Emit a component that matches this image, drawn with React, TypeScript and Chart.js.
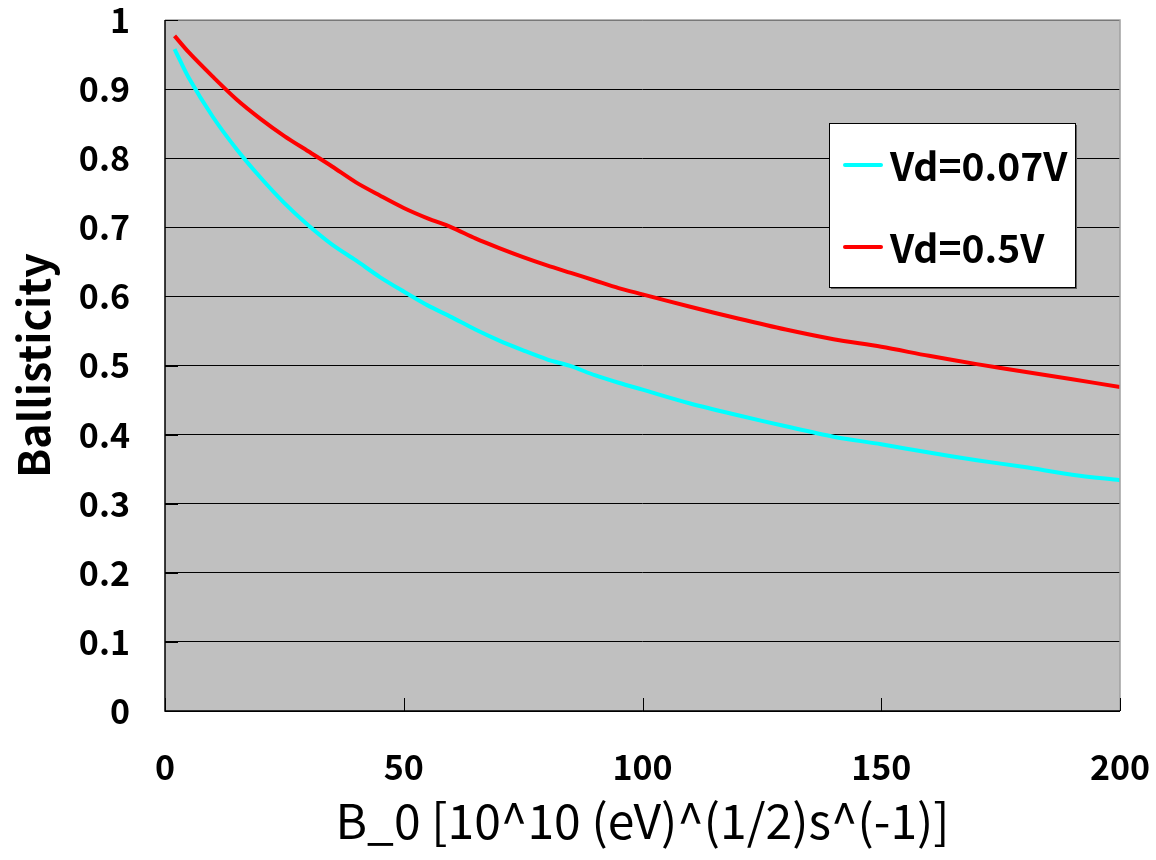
import React, { useEffect, useRef } from "react";
import { Chart, registerables } from "chart.js";

Chart.register(...registerables);

// B_0 values (x)
const xValues = [2, 5, 10, 15, 20, 25, 30, 35, 40, 45, 50, 55, 60, 65, 70, 75, 80, 85, 90, 95, 100, 110, 120, 130, 140, 150, 160, 170, 180, 190, 200];
// Ballisticity, Vd = 0.07 V
const vd007 = [0.958, 0.916, 0.860, 0.813, 0.772, 0.735, 0.703, 0.675, 0.652, 0.628, 0.607, 0.587, 0.570, 0.552, 0.536, 0.522, 0.509, 0.499, 0.486, 0.475, 0.465, 0.445, 0.428, 0.412, 0.397, 0.386, 0.374, 0.363, 0.353, 0.342, 0.334];
// Ballisticity, Vd = 0.5 V
const vd05 = [0.977, 0.953, 0.918, 0.885, 0.857, 0.832, 0.810, 0.788, 0.765, 0.746, 0.728, 0.713, 0.700, 0.684, 0.670, 0.657, 0.645, 0.634, 0.623, 0.612, 0.603, 0.585, 0.568, 0.552, 0.538, 0.527, 0.514, 0.502, 0.491, 0.480, 0.469];

const seriesLabels = ["Vd=0.07V", "Vd=0.5V"];
const seriesColors = ["#00FFFF", "#FF0000"];
const yTickLabels = ["0", "0.1", "0.2", "0.3", "0.4", "0.5", "0.6", "0.7", "0.8", "0.9", "1"];
const xTickValues = [0, 50, 100, 150, 200];
const xTitle = "B_0 [10^10 (eV)^(1/2)s^(-1)]";
const yTitle = "Ballisticity";

const FONT = '"Noto Sans CJK JP", "Noto Sans", sans-serif';

const plotPlugin = {
  id: "plotDecor",
  beforeDraw(chart: any) {
    const { ctx, chartArea } = chart;
    ctx.save();
    ctx.fillStyle = "#C0C0C0";
    ctx.fillRect(chartArea.left, chartArea.top, chartArea.right - chartArea.left, chartArea.bottom - chartArea.top);
    ctx.restore();
  },
  afterDatasetsDraw(chart: any) {
    const { ctx, chartArea, scales } = chart;
    const { left, right, top, bottom } = chartArea;
    ctx.save();
    // frame: top & right gray, left & bottom black
    ctx.lineWidth = 1.5;
    ctx.strokeStyle = "#A0A0A0";
    ctx.beginPath();
    ctx.moveTo(left, top);
    ctx.lineTo(right, top);
    ctx.lineTo(right, bottom);
    ctx.stroke();
    ctx.strokeStyle = "#000";
    ctx.beginPath();
    ctx.moveTo(left, top);
    ctx.lineTo(left, bottom);
    ctx.lineTo(right, bottom);
    ctx.stroke();
    // inward ticks
    ctx.lineWidth = 1;
    ctx.strokeStyle = "#000";
    ctx.beginPath();
    xTickValues.forEach((v) => {
      const px = Math.round(scales.x.getPixelForValue(v)) + 0.5;
      ctx.moveTo(px, bottom);
      ctx.lineTo(px, bottom - 13);
    });
    for (let i = 0; i < yTickLabels.length; i++) {
      const py = Math.round(scales.y.getPixelForValue(i / 10)) + 0.5;
      ctx.moveTo(left, py);
      ctx.lineTo(left + 13, py);
    }
    ctx.stroke();

    // legend box
    const bx = 829, by = 123, bw = 246, bh = 164;
    ctx.fillStyle = "#606060";
    ctx.fillRect(bx + 2, by + 2, bw, bh);
    ctx.fillStyle = "#FFFFFF";
    ctx.fillRect(bx, by, bw, bh);
    ctx.strokeStyle = "#000";
    ctx.lineWidth = 1;
    ctx.strokeRect(bx + 0.5, by + 0.5, bw, bh);
    const rows = [165, 247];
    chart.data.datasets.forEach((ds: any, i: number) => {
      const cy = rows[i];
      ctx.strokeStyle = ds.borderColor;
      ctx.lineWidth = 4;
      ctx.lineCap = "round";
      ctx.beginPath();
      ctx.moveTo(845, cy);
      ctx.lineTo(881, cy);
      ctx.stroke();
      ctx.fillStyle = "#000";
      ctx.font = `bold 39px ${FONT}`;
      ctx.textBaseline = "middle";
      ctx.textAlign = "left";
      ctx.fillText(ds.label, 890, cy + 1);
    });
    ctx.restore();
  },
};

export default function App() {
  const ref = useRef<HTMLCanvasElement | null>(null);
  useEffect(() => {
    if (!ref.current) return;
    const datasets = [vd007, vd05].map((vals, i) => ({
      label: seriesLabels[i],
      data: xValues.map((x, j) => ({ x, y: vals[j] })),
      borderColor: seriesColors[i],
      backgroundColor: seriesColors[i],
      borderWidth: 4,
      pointRadius: 0,
      tension: 0.3,
      fill: false,
    }));
    const chart = new Chart(ref.current, {
      type: "line",
      data: { datasets },
      plugins: [plotPlugin],
      options: {
        animation: false,
        responsive: false,
        maintainAspectRatio: false,
        layout: { padding: { left: 0, top: 20, right: 36, bottom: 0 } },
        plugins: { legend: { display: false }, tooltip: { enabled: false } },
        scales: {
          x: {
            type: "linear",
            min: 0,
            max: 200,
            afterBuildTicks: (scale: any) => {
              scale.ticks = xTickValues.map((v) => ({ value: v }));
            },
            afterFit: (scale: any) => {
              scale.height = 149;
              scale.paddingLeft = 0;
              scale.paddingRight = 0;
            },
            grid: { display: false, drawTicks: false },
            border: { display: false },
            ticks: {
              color: "#000",
              font: { family: FONT, size: 34, weight: "bold" },
              padding: 36,
              maxRotation: 0,
            },
            title: {
              display: true,
              text: xTitle,
              color: "#000",
              font: { family: FONT, size: 48, weight: "normal" },
              padding: { top: 0, bottom: 10 },
            },
          },
          y: {
            type: "linear",
            min: 0,
            max: 1,
            afterFit: (scale: any) => {
              scale.width = 165;
              scale.paddingTop = 0;
              scale.paddingBottom = 0;
            },
            ticks: {
              stepSize: 0.1,
              color: "#000",
              font: { family: FONT, size: 34, weight: "bold" },
              padding: 35,
              callback: (v: any) => yTickLabels[Math.round(Number(v) * 10)],
            },
            grid: { color: "#000", lineWidth: 1, drawTicks: false },
            border: { display: false },
            title: {
              display: true,
              text: yTitle,
              color: "#000",
              font: { family: FONT, size: 43, weight: "bold" },
              padding: { top: 8, bottom: 0 },
            },
          },
        },
      } as any,
    });
    return () => chart.destroy();
  }, []);
  return (
    <div style={{ position: "absolute", left: 0, top: 0, width: 1156, height: 860, background: "#fff" }}>
      <canvas ref={ref} width={1156} height={860} style={{ width: 1156, height: 860 }} />
    </div>
  );
}
